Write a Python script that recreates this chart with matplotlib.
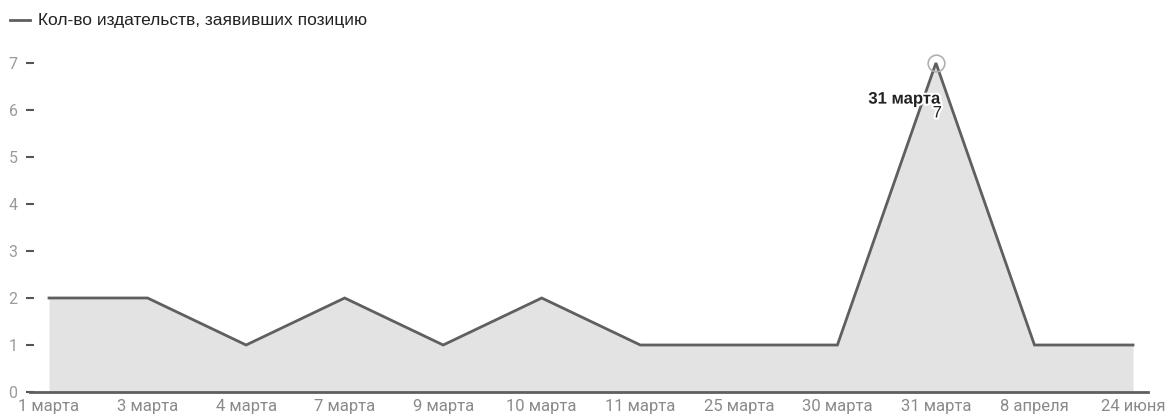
import matplotlib
matplotlib.use("Agg")
import matplotlib.pyplot as plt
import matplotlib.patheffects as pe

categories = ["1 марта", "3 марта", "4 марта", "7 марта", "9 марта", "10 марта",
              "11 марта", "25 марта", "30 марта", "31 марта", "8 апреля", "24 июня"]
values = [2, 2, 1, 2, 1, 2, 1, 1, 1, 7, 1, 1]
series_name = "Кол-во издательств, заявивших позицию"
y_ticks = [0, 1, 2, 3, 4, 5, 6, 7]

W, H = 1166, 418
fig = plt.figure(figsize=(W / 100, H / 100), dpi=100)
ax = fig.add_axes([30 / W, 1 - 392 / H, (1148 - 30) / W, (392 - 53.6) / H])

x = list(range(len(categories)))
line_col = "#5f5f5f"
ax.fill_between(x, 0, values, color="#e3e3e3", lw=0, zorder=1)
ax.plot(x, values, color=line_col, lw=2, zorder=3, solid_joinstyle="miter")

ax.set_xlim(-0.193, 11.152)
ax.set_ylim(0, 7.2)

for s in ["top", "right", "left"]:
    ax.spines[s].set_visible(False)
ax.spines["bottom"].set_color(line_col)
ax.spines["bottom"].set_linewidth(2)
ax.spines["bottom"].set_zorder(4)

ax.set_xticks(x)
ax.set_xticklabels(categories, family="Roboto", fontsize=12, color="#8a8a8a")
ax.tick_params(axis="x", length=0, pad=5)
ax.set_yticks(y_ticks)
ax.set_yticklabels([str(v) for v in y_ticks], family="Roboto", fontsize=11.5, color="#9a9a9a")
ax.tick_params(axis="y", length=6, width=1.5, color="#555555", pad=6, direction="inout")

# peak annotation
imax = values.index(max(values))
ax.plot([imax], [values[imax]], marker="o", ms=12, mfc="none", mec="#b0b0b0", mew=1.2, zorder=5)
halo = [pe.withStroke(linewidth=3, foreground="white")]
ax.annotate(categories[imax], (imax, values[imax]), xytext=(3, -26), textcoords="offset points",
            ha="right", va="center", fontsize=12, fontweight="bold", family="Liberation Sans",
            color="#222222", path_effects=halo, zorder=6)
ax.annotate(str(values[imax]), (imax, values[imax]), xytext=(1, -36), textcoords="offset points",
            ha="center", va="center", fontsize=12, family="Liberation Sans",
            color="#222222", path_effects=halo, zorder=6)

# legend
fig.lines.append(plt.Line2D([10 / W, 30 / W], [1 - 20 / H, 1 - 20 / H], color=line_col, lw=2,
                            transform=fig.transFigure))
fig.text(38 / W, 1 - 20 / H, series_name, ha="left", va="center", fontsize=12.5,
         family="Liberation Sans", color="#222222")

fig.savefig("out.png", dpi=100)
